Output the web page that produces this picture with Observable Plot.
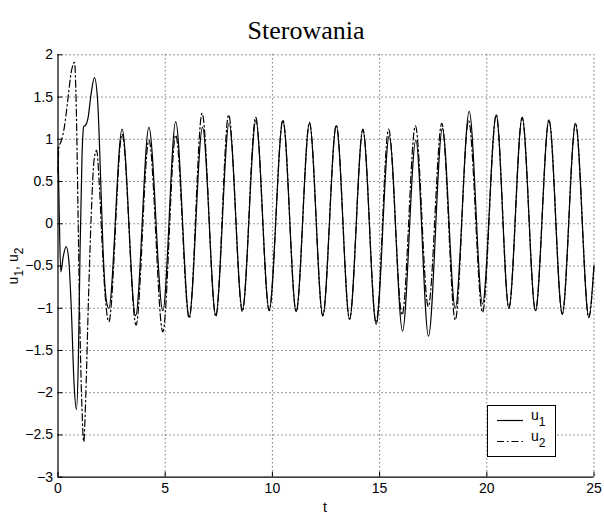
<!DOCTYPE html>
<html>
<head>
<meta charset="utf-8">
<script src="https://cdn.jsdelivr.net/npm/d3@7"></script>
<script src="https://cdn.jsdelivr.net/npm/@observablehq/plot@0.6"></script>
<style>
  html, body { margin: 0; padding: 0; background: #fff; }
  #chart svg { display: block; }
</style>
</head>
<body>
<div id="chart"></div>
<script>
// ---- data ----
const titleText = "Sterowania";
const xTicks = [0, 5, 10, 15, 20, 25];
const yTicks = [2, 1.5, 1, 0.5, 0, -0.5, -1, -1.5, -2, -2.5, -3];
const seriesNames = ["u1", "u2"];

// u1 (solid) : time, value
const tU1 = [0, 0.06, 0.13, 0.25, 0.38, 0.5, 0.62, 0.75, 0.86, 0.95, 1.03, 1.12, 1.2, 1.3, 1.4, 1.55, 1.7, 1.85, 1.98, 2.1, 2.25, 2.37,
  2.99, 3.62, 4.24, 4.89, 5.49, 6.12, 6.74, 7.36, 7.98, 8.60, 9.23, 9.85, 10.49, 11.11, 11.73, 12.35, 12.98, 13.60, 14.22, 14.84,
  15.45, 16.07, 16.69, 17.28, 17.93, 18.53, 19.18, 19.80, 20.44, 21.03, 21.65, 22.27, 22.90, 23.52, 24.14, 24.76, 25.0];
const u1 = [0.9, 0.1, -0.57, -0.38, -0.27, -0.42, -1.0, -1.9, -2.2, -1.6, -0.3, 0.8, 1.15, 1.17, 1.25, 1.55, 1.73, 1.45, 0.6, -0.3, -0.9, -1.0,
  1.12, -1.09, 1.14, -1.03, 1.21, -1.10, 1.14, -1.08, 1.19, -1.02, 1.22, -1.02, 1.22, -1.04, 1.19, -1.09, 1.16, -1.13, 1.11, -1.19,
  1.04, -1.27, 0.99, -1.33, 1.13, -1.00, 1.33, -0.95, 1.29, -1.00, 1.26, -1.03, 1.23, -1.07, 1.19, -1.11, -0.49];

// u2 (dash-dot) : time, value
const tU2 = [0, 0.04, 0.15, 0.3, 0.45, 0.62, 0.77, 0.85, 0.93, 1.02, 1.12, 1.2, 1.3, 1.42, 1.55, 1.68, 1.8, 1.92, 2.05, 2.2, 2.37,
  2.99, 3.64, 4.24, 4.89, 5.49, 6.12, 6.72, 7.36, 7.96, 8.60, 9.22, 9.85, 10.49, 11.11, 11.73, 12.35, 12.98, 13.60, 14.22, 14.84,
  15.42, 16.05, 16.67, 17.27, 17.90, 18.53, 19.15, 19.80, 20.44, 21.03, 21.65, 22.27, 22.90, 23.52, 24.14, 24.76, 25.0];
const u2 = [0.6, 0.9, 0.98, 1.15, 1.45, 1.8, 1.91, 1.4, 0.2, -1.2, -2.2, -2.58, -2.0, -0.9, 0.1, 0.75, 0.87, 0.5, -0.2, -0.85, -1.16,
  1.06, -1.20, 0.99, -1.28, 1.05, -1.12, 1.31, -1.10, 1.29, -1.04, 1.26, -1.03, 1.23, -1.04, 1.20, -1.09, 1.17, -1.13, 1.12, -1.17,
  1.12, -1.08, 1.16, -0.98, 1.19, -1.14, 1.22, -1.05, 1.29, -1.00, 1.26, -1.03, 1.23, -1.07, 1.19, -1.11, -0.49];

const d1 = tU1.map((t, i) => ({t, u: u1[i]}));
const d2 = tU2.map((t, i) => ({t, u: u2[i]}));

// ---- layout ----
const W = 604, H = 516;
const mL = 57.5, mR = 10.5, mT = 54.3, mB = 39.3;
const plotW = W - mL - mR, plotH = H - mT - mB;
const font = "'Liberation Sans', Arial, Helvetica, sans-serif";
const dashDot = "7,3,1.5,3";
const fmt = d => String(d).replace("-", "\u2212");

const chart = Plot.plot({
  width: W,
  height: H,
  marginLeft: mL, marginRight: mR, marginTop: mT, marginBottom: mB,
  style: {fontFamily: font, fontSize: "14px", color: "#000", background: "#fff", overflow: "visible"},
  x: {domain: [0, 25], ticks: xTicks, tickSize: 0, tickPadding: 6, tickFormat: fmt, label: null},
  y: {domain: [-3, 2], ticks: yTicks, tickSize: 0, tickPadding: 5, tickFormat: fmt, label: null},
  marks: [
    // dotted grid
    Plot.ruleX(xTicks.filter(d => d > 0), {x: d => d, stroke: "#333", strokeWidth: 1, strokeDasharray: "1,3"}),
    Plot.ruleY(yTicks.filter(d => d > -3), {y: d => d, stroke: "#333", strokeWidth: 1, strokeDasharray: "1,3"}),
    // curves
    Plot.line(d1, {x: "t", y: "u", curve: "monotone-x", stroke: "#000", strokeWidth: 1.2}),
    Plot.line(d2, {x: "t", y: "u", curve: "monotone-x", stroke: "#000", strokeWidth: 1.2, strokeDasharray: dashDot}),
    // axes lines
    Plot.ruleX([0], {stroke: "#000", strokeWidth: 1.2}),
    Plot.ruleY([-3], {stroke: "#000", strokeWidth: 1.2}),
    // inward ticks
    Plot.ruleX(xTicks, {x: d => d, insetTop: plotH - 5, stroke: "#000"}),
    Plot.ruleY(yTicks, {y: d => d, insetRight: plotW - 5, stroke: "#000"})
  ]
});

document.getElementById("chart").appendChild(chart);

const svg = d3.select(chart);

// title
svg.append("text")
  .attr("x", 306).attr("y", 39)
  .attr("text-anchor", "middle")
  .attr("font-family", "'Liberation Serif', 'Times New Roman', serif")
  .attr("font-size", 26)
  .attr("fill", "#000")
  .text(titleText);

// x label
svg.append("text")
  .attr("x", 325).attr("y", 512)
  .attr("text-anchor", "middle")
  .attr("font-family", font).attr("font-size", 14).attr("fill", "#000")
  .text("t");

// y label with subscripts
const yl = svg.append("text")
  .attr("transform", "translate(17.5,266) rotate(-90)")
  .attr("text-anchor", "middle")
  .attr("font-family", font).attr("font-size", 14).attr("fill", "#000");
yl.append("tspan").text("u");
yl.append("tspan").attr("dy", 5).attr("font-size", 12).text("1");
yl.append("tspan").attr("dy", -5).text(", u");
yl.append("tspan").attr("dy", 5).attr("font-size", 12).text("2");

// legend
const lg = svg.append("g");
lg.append("rect").attr("x", 487.5).attr("y", 405.5).attr("width", 68).attr("height", 51)
  .attr("fill", "#fff").attr("stroke", "#000").attr("stroke-width", 1);
const rows = [{y: 420.5, dash: null}, {y: 441.5, dash: dashDot}];
seriesNames.forEach((name, i) => {
  const r = rows[i];
  const ln = lg.append("line").attr("x1", 497).attr("x2", 523).attr("y1", r.y).attr("y2", r.y)
    .attr("stroke", "#000").attr("stroke-width", 1.2);
  if (r.dash) ln.attr("stroke-dasharray", r.dash);
  const tx = lg.append("text").attr("x", 531).attr("y", r.y - 1)
    .attr("text-anchor", "start")
    .attr("font-family", font).attr("font-size", 14).attr("fill", "#000");
  tx.append("tspan").text(name[0]);
  tx.append("tspan").attr("dy", 6).attr("font-size", 12).text(name.slice(1));
});
</script>
</body>
</html>
